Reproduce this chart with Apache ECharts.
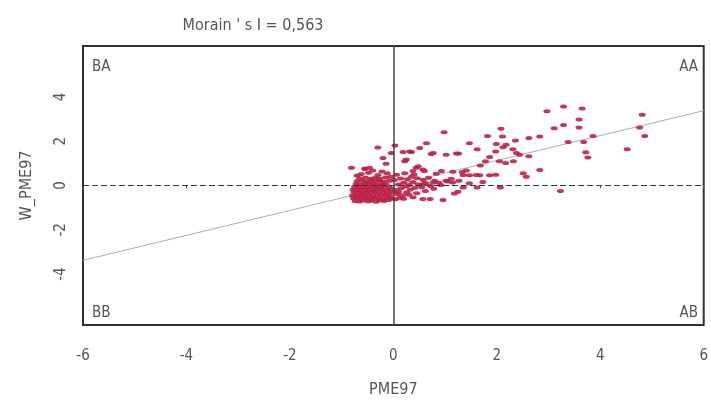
<!DOCTYPE html>
<html><head><meta charset="utf-8">
<script src="https://cdn.jsdelivr.net/npm/echarts@6/dist/echarts.min.js"></script>
<style>html,body{margin:0;padding:0;background:#fff}#c{width:711px;height:403px}</style>
</head><body><div id="c"></div>
<script>
const titleText = "Morain ' s I = 0,563";
const xName = "PME97";
const yName = "W_PME97";
const moranI = 0.563;
const xTicks = [-6, -4, -2, 0, 2, 4, 6];
const yTicks = [-4, -2, 0, 2, 4];
const quadrantLabels = ["BA", "AA", "BB", "AB"];

const outerPoints = [
  [3.29,3.57],[3.65,3.48],[2.97,3.35],[4.81,3.19],[3.59,2.98],[3.29,2.73],[3.59,2.62],[3.11,2.59],
  [4.76,2.62],[2.08,2.56],[4.86,2.24],[3.86,2.24],[1.82,2.24],[2.11,2.21],[2.83,2.21],[2.62,2.15],
  [2.36,2.03],[3.38,1.97],[3.68,1.97],[1.47,1.91],[1.99,1.87],[2.18,1.84],[2.12,1.73],[1.62,1.64],
  [2.31,1.64],[4.52,1.64],[1.98,1.54],[3.72,1.50],[2.38,1.47],[1.26,1.44],[2.44,1.39],[3.76,1.26],
  [2.62,1.32],[1.86,1.29],[1.78,1.10],[2.05,1.10],[2.17,1.02],[2.32,1.10],[1.68,0.90],[2.83,0.70],
  [2.51,0.55],[2.57,0.40],[1.33,0.61],[1.47,0.46],[1.67,0.46],[1.86,0.46],[1.98,0.49],[1.27,0.21],
  [1.47,0.10],[1.73,0.16],[1.35,-0.09],[1.62,-0.09],[2.07,-0.09],[3.23,-0.25],[1.25,-0.28],
  [0.98,2.40]
];
const midPoints = [
  [-0.30,1.72],[0.03,1.81],[0.64,1.91],[0.32,1.54],[0.51,1.69],[0.77,1.47],[1.02,1.39],[1.22,1.44],
  [-0.20,1.24],[0.25,1.17],[-0.81,0.80],[-0.46,0.80],[-0.14,0.98],[0.44,0.80],[0.57,0.72],[0.83,0.53],
  [1.15,0.62],[1.35,0.47],[1.60,0.47],[1.15,0.13],[1.02,0.21],[0.77,0.13],[0.57,0.06],[1.18,-0.36],
  [0.96,-0.65],[0.57,-0.61],[0.38,-0.53],[0.71,-0.61],[-0.04,1.47],[0.19,1.51],[0.35,1.51],[0.73,1.42],
  [0.22,1.10],[-0.55,0.77],[0.48,0.87],[0.60,0.65],[0.38,0.65],[0.93,0.65],[1.41,0.68]
];
const clusterPoints = [
  [-0.74,-0.70],[-0.66,-0.72],[-0.58,-0.68],[-0.49,-0.71],[-0.41,-0.69],[-0.33,-0.73],[-0.26,-0.67],[-0.18,-0.70],[-0.09,-0.66],
  [-0.77,-0.58],[-0.69,-0.56],[-0.61,-0.60],[-0.53,-0.57],[-0.45,-0.59],[-0.37,-0.55],[-0.29,-0.58],[-0.21,-0.61],[-0.12,-0.56],[-0.04,-0.59],
  [-0.79,-0.45],[-0.71,-0.47],[-0.63,-0.43],[-0.56,-0.46],[-0.47,-0.44],[-0.39,-0.48],[-0.31,-0.42],[-0.23,-0.46],[-0.15,-0.44],[-0.06,-0.47],
  [-0.76,-0.32],[-0.68,-0.30],[-0.60,-0.34],[-0.52,-0.31],[-0.44,-0.33],[-0.36,-0.29],[-0.28,-0.33],[-0.19,-0.31],[-0.11,-0.35],[-0.02,-0.30],
  [-0.78,-0.19],[-0.70,-0.21],[-0.62,-0.17],[-0.54,-0.20],[-0.46,-0.18],[-0.38,-0.22],[-0.30,-0.16],[-0.22,-0.19],[-0.13,-0.21],[-0.05,-0.17],
  [-0.75,-0.06],[-0.67,-0.08],[-0.59,-0.04],[-0.50,-0.07],[-0.42,-0.05],[-0.34,-0.09],[-0.25,-0.03],[-0.17,-0.06],[-0.08,-0.08],
  [-0.72,0.07],[-0.64,0.05],[-0.55,0.09],[-0.47,0.06],[-0.39,0.08],[-0.31,0.04],[-0.22,0.09],[-0.14,0.06],
  [-0.70,0.20],[-0.60,0.22],[-0.51,0.18],[-0.43,0.21],[-0.35,0.19],[-0.26,0.23],[-0.18,0.17],[-0.07,0.21],
  [-0.65,0.33],[-0.54,0.35],[-0.44,0.31],[-0.36,0.34],[-0.27,0.32],[-0.15,0.36],
  [-0.62,0.52],[-0.48,0.58],[-0.30,0.47],[-0.12,0.55],[-0.70,0.45],[-0.40,0.68],[-0.22,0.63],[-0.05,0.40],[-0.55,0.75]
];
const rightClusterPoints = [
  [0.04,-0.62],[0.12,-0.55],[0.08,-0.38],[0.18,-0.44],[0.26,-0.30],[0.05,-0.20],[0.15,-0.12],[0.24,-0.05],
  [0.33,-0.18],[0.42,-0.10],[0.10,0.05],[0.20,0.12],[0.30,0.02],[0.38,0.15],[0.48,0.05],[0.55,-0.08],
  [0.63,0.10],[0.72,-0.02],[0.02,0.25],[0.14,0.32],[0.27,0.28],[0.35,0.40],[0.46,0.33],[0.58,0.25],
  [0.68,0.35],[0.80,0.22],[0.88,0.12],[0.06,0.48],[0.22,0.55],[0.40,0.50],[0.30,-0.42],[0.45,-0.35],
  [0.62,-0.25],[0.78,-0.15],[0.92,0.02],[1.05,0.18],[1.12,0.30],[0.10,-0.28],[0.20,-0.60]
];
const regressionX = [-6, 6];

const font = "'DejaVu Sans Condensed', 'Liberation Sans Narrow', 'DejaVu Sans', sans-serif";
const textColor = '#555';
const allPoints = clusterPoints.concat(rightClusterPoints, midPoints, outerPoints);

const chart = echarts.init(document.getElementById('c'), null, {renderer: 'canvas'});
chart.setOption({
  animation: false,
  backgroundColor: '#fff',
  title: {
    text: titleText, left: 248, top: 13, textAlign: 'center',
    textStyle: {fontFamily: font, fontSize: 16, fontWeight: 'normal', color: textColor}
  },
  grid: {left: 83, right: 3, top: 46, bottom: 73, show: true, borderColor: '#333', borderWidth: 2, backgroundColor: 'transparent'},
  xAxis: {
    type: 'value', min: -6, max: 6, interval: 2,
    name: xName, nameLocation: 'middle', nameGap: 57,
    nameTextStyle: {fontFamily: font, fontSize: 16, color: textColor},
    axisLine: {show: false},
    axisTick: {show: true, length: 3, lineStyle: {color: '#555'}},
    axisLabel: {fontFamily: font, fontSize: 15, color: textColor, margin: 24,
      customValues: xTicks},
    splitLine: {show: false}
  },
  yAxis: {
    type: 'value', min: -6.3, max: 6.3,
    name: yName, nameLocation: 'middle', nameGap: 48, nameRotate: 90,
    nameTextStyle: {fontFamily: font, fontSize: 16, color: textColor},
    axisLine: {show: false},
    axisTick: {show: false},
    axisLabel: {fontFamily: font, fontSize: 15, color: textColor, rotate: 90, margin: 14,
      customValues: yTicks},
    splitLine: {show: false}
  },
  graphic: [
    {type: 'text', left: 92, top: 60, style: {text: quadrantLabels[0], font: '15px ' + font, fill: textColor}},
    {type: 'text', right: 13, top: 60, style: {text: quadrantLabels[1], font: '15px ' + font, fill: textColor}},
    {type: 'text', left: 92, top: 306, style: {text: quadrantLabels[2], font: '15px ' + font, fill: textColor}},
    {type: 'text', right: 13, top: 306, style: {text: quadrantLabels[3], font: '15px ' + font, fill: textColor}}
  ],
  series: [
    {
      type: 'line', data: regressionX.map(x => [x, x * moranI]), symbol: 'none',
      lineStyle: {color: '#9fb0c4', width: 1}, z: 1, silent: true
    },
    {
      type: 'scatter', data: allPoints, symbol: 'circle', symbolSize: [7, 4],
      itemStyle: {color: '#bc2145', opacity: 0.9}, z: 3,
      markLine: {
        silent: true, symbol: 'none', label: {show: false},
        data: [
          {xAxis: 0, lineStyle: {color: '#444', width: 1.5, type: 'solid'}},
          {yAxis: 0, lineStyle: {color: '#2c3550', width: 1.2, type: [6, 3]}}
        ]
      }
    }
  ]
});
</script></body></html>
